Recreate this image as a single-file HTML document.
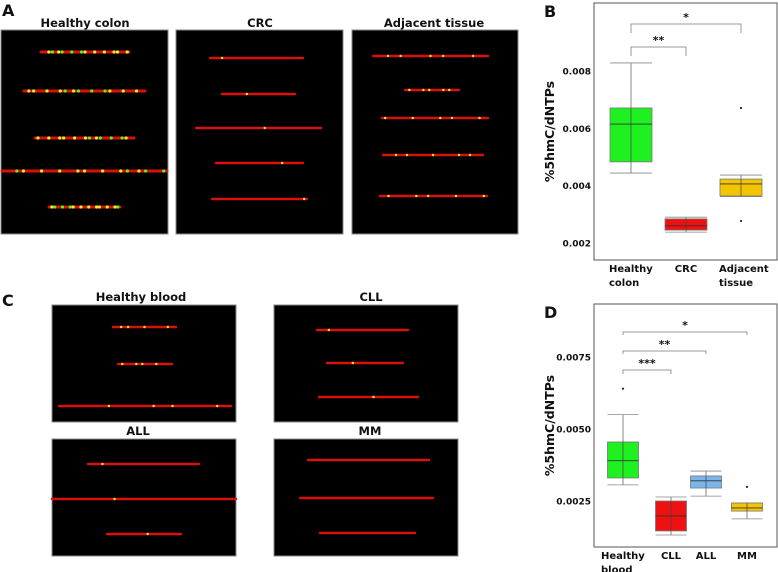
<!DOCTYPE html>
<html><head><meta charset="utf-8"><style>
body{margin:0;background:#fff;}
svg{display:block;font-family:"DejaVu Sans","Liberation Sans",sans-serif;}
.t{font-weight:bold;fill:#111;}
</style></head><body>
<svg id="fig" width="778" height="572" viewBox="0 0 778 572">
<g id="imgs"></g>
<g id="chartB"></g>
<g id="chartD"></g>
</svg>
<script>
// Chart B data
const catsB=["Healthy colon","CRC","Adjacent tissue"];
const q1B=[0.00483,0.00245,0.00364];
const medB=[0.00615,0.0026,0.00406];
const q3B=[0.00671,0.00284,0.00423];
const wloB=[0.00444,0.00238,0.00362];
const whiB=[0.00828,0.0029,0.00437];
const outB=[[],[],[0.00671,0.00277]];
const ticksB=[0.002,0.004,0.006,0.008];
const colB=["#1ff01f","#ee1111","#f3c500"];
// Chart D data
const catsD=["Healthy blood","CLL","ALL","MM"];
const q1D=[0.0033,0.00146,0.00295,0.00215];
const medD=[0.0039,0.00198,0.0032,0.00226];
const q3D=[0.00455,0.0025,0.00337,0.00243];
const wloD=[0.00306,0.00132,0.00267,0.00188];
const whiD=[0.0055,0.00264,0.00354,0.00243];
const outD=[[0.0064],[],[],[0.00299]];
const ticksD=[0.0025,0.005,0.0075];
const colD=["#1ff01f","#ee1111","#7ab6ec","#f3c500"];

const NS="http://www.w3.org/2000/svg";
function mk(p,tag,at,txt){const e=document.createElementNS(NS,tag);for(const k in at)e.setAttribute(k,at[k]);if(txt!=null)e.textContent=txt;p.appendChild(e);return e;}

const imgs=document.getElementById('imgs');
const panels=[
 {x:1,y:30,w:167,h:204,title:"Healthy colon",tx:85,ty:27,dots:12,s:[[52,41,129],[91,24,145],[138,35,134],[171,2,167],[207,49,120]]},
 {x:176,y:30,w:167,h:204,title:"CRC",tx:260,ty:27,dots:1,s:[[58,210,303],[94,222,295],[128,196,321],[163,216,303],[199,212,307]]},
 {x:352,y:30,w:166,h:204,title:"Adjacent tissue",tx:434,ty:27,dots:5,s:[[56,373,488],[90,405,459],[118,382,488],[155,383,483],[196,380,487]]},
 {x:52,y:305,w:184,h:117,title:"Healthy blood",tx:141,ty:301,dots:4,s:[[327,113,176],[364,118,172],[406,59,231]]},
 {x:274,y:305,w:184,h:117,title:"CLL",tx:371,ty:301,dots:1,s:[[330,317,408],[363,327,403],[397,319,418]]},
 {x:52,y:439,w:184,h:117,title:"ALL",tx:138,ty:435,dots:1,s:[[464,88,199],[499,52,236],[534,107,181]]},
 {x:274,y:439,w:184,h:117,title:"MM",tx:370,ty:435,dots:0,s:[[460,308,429],[498,300,433],[533,320,415]]}
];
panels.forEach((p,i)=>{
 const g=mk(imgs,'g',{});
 
 
 mk(g,'rect',{x:p.x,y:p.y,width:p.w,height:p.h,fill:'#000',stroke:'#888','stroke-width':1});
 const t=mk(g,'text',{x:p.tx,y:p.ty,'text-anchor':'middle','font-size':11.5,class:'t'},p.title);
 
 
 p.s.forEach((s,j)=>{
  mk(g,'line',{x1:s[1],y1:s[0],x2:s[2],y2:s[0],stroke:'#d81010','stroke-width':i==0?3:2.4,'stroke-linecap':'round'});
  const n=p.dots;
  for(let k=0;k<n;k++){const f=((k*0.37+j*0.21+0.13)%1);const cx=s[1]+f*(s[2]-s[1]);
   mk(g,'circle',{cx:cx,cy:s[0],r:i==0?1.6:1.2,fill:(k%3==0&&i==0)?'#60f020':'#e8f030'});}
 });
});
const lA=mk(imgs,'text',{x:2,y:16,'font-size':16,class:'t'},'A');
const lC=mk(imgs,'text',{x:2,y:306,'font-size':16,class:'t'},'C');

function boxChart(gid,letter,frame,yOf,xs,bw,cats,q1,med,q3,wlo,whi,outs,ticks,cols,tickFmt,brackets,labelY){
 const g=document.getElementById(gid);
 const L=mk(g,'text',{x:544,y:frame.t+14,'font-size':16,class:'t'},letter);
 
 mk(g,'rect',{x:frame.l,y:frame.t,width:frame.r-frame.l,height:frame.b-frame.t,fill:'none',stroke:'#555','stroke-width':1});
 ticks.forEach(v=>{const t=mk(g,'text',{x:frame.l-3,y:yOf(v)+3.5,'text-anchor':'end','font-size':9,class:'t'},tickFmt(v));
  });
 const yt=mk(g,'text',{x:0,y:0,'text-anchor':'middle','font-size':12.5,class:'t',transform:`translate(554,${(frame.t+frame.b)/2}) rotate(-90)`},'%5hmC/dNTPs');
 
 cats.forEach((c,i)=>{
  const x=xs[i];
  const b=mk(g,'g',{});
  
  
  mk(b,'line',{x1:x,x2:x,y1:yOf(whi[i]),y2:yOf(wlo[i]),stroke:'#666','stroke-width':0.8});
  mk(b,'line',{x1:x-bw/2,x2:x+bw/2,y1:yOf(whi[i]),y2:yOf(whi[i]),stroke:'#888','stroke-width':0.8});
  mk(b,'line',{x1:x-bw/2,x2:x+bw/2,y1:yOf(wlo[i]),y2:yOf(wlo[i]),stroke:'#888','stroke-width':0.8});
  mk(b,'rect',{x:x-bw/2,y:yOf(q3[i]),width:bw,height:yOf(q1[i])-yOf(q3[i]),fill:cols[i],stroke:'#777','stroke-width':0.8});
  mk(b,'line',{x1:x,x2:x,y1:yOf(q3[i]),y2:yOf(q1[i]),stroke:'#444','stroke-width':0.7});
  mk(b,'line',{x1:x-bw/2,x2:x+bw/2,y1:yOf(med[i]),y2:yOf(med[i]),stroke:'#333','stroke-width':0.9});
  outs[i].forEach(o=>mk(b,'circle',{cx:x,cy:yOf(o),r:1.1,fill:'#222'}));
  const words=c.split(' ');
  words.forEach((w,k)=>{const t=mk(g,'text',{x:x,y:labelY+k*14,'text-anchor':words.length>1?'start':'middle','font-size':10,class:'t'},w);
   if(words.length>1)t.setAttribute('x',x-22);
   });
 });
 brackets.forEach(br=>{
  const x1=xs[br.a],x2=xs[br.b];
  const bg=mk(g,'g',{});
  
  
  mk(bg,'path',{d:`M${x1},${br.y+br.leg} V${br.y} H${x2} V${br.y+br.leg}`,fill:'none',stroke:'#999','stroke-width':1});
  mk(bg,'text',{x:(x1+x2)/2,y:br.y-3,'text-anchor':'middle','font-size':11,class:'t'},br.s);
 });
}
const yB=v=>243-(v-0.002)*28670;
boxChart('chartB','B',{l:594,t:3,r:777,b:260},yB,[631,686,741],42,catsB,q1B,medB,q3B,wloB,whiB,outB,ticksB,colB,v=>v.toFixed(3),
 [{a:0,b:1,y:47,leg:9,s:'**'},{a:0,b:2,y:24,leg:9,s:'*'}],272);
const yD=v=>501-(v-0.0025)*28800;
boxChart('chartD','D',{l:594,t:304,r:777,b:547},yD,[623,671,706,747],31,catsD,q1D,medD,q3D,wloD,whiD,outD,ticksD,colD,v=>v.toFixed(4),
 [{a:0,b:1,y:370,leg:4,s:'***'},{a:0,b:2,y:351,leg:3,s:'**'},{a:0,b:3,y:332,leg:3,s:'*'}],559);
</script>
</body></html>
